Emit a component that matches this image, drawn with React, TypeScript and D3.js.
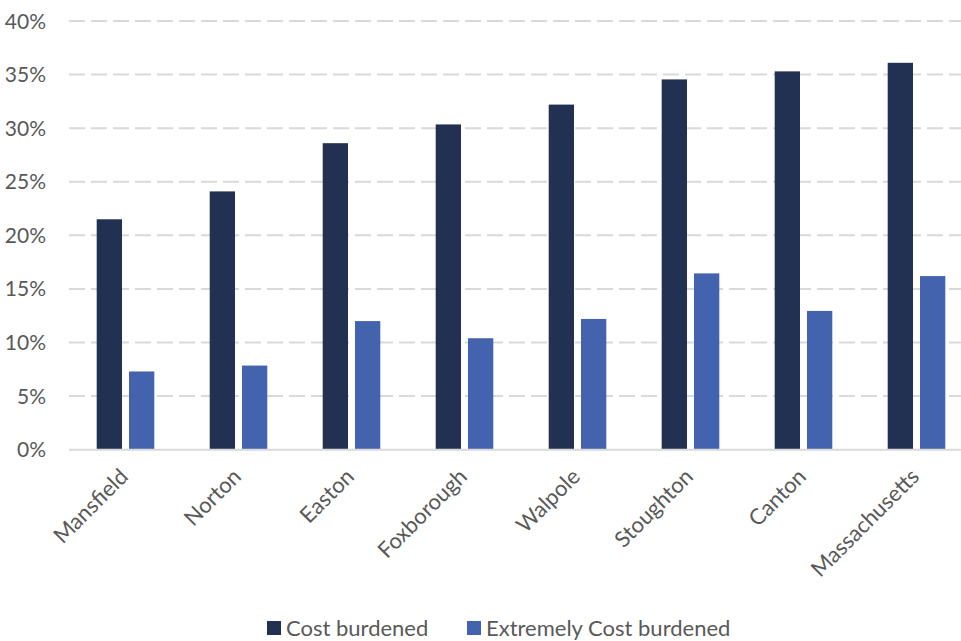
import React from "react";
import * as d3 from "d3";

const categories = ["Mansfield", "Norton", "Easton", "Foxborough", "Walpole", "Stoughton", "Canton", "Massachusetts"];
const costBurdened = [21.5, 24.1, 28.6, 30.35, 32.2, 34.55, 35.3, 36.1];
const extremelyCostBurdened = [7.3, 7.85, 12.0, 10.4, 12.2, 16.45, 12.95, 16.2];
const seriesNames = ["Cost burdened", "Extremely Cost burdened"];
const seriesColors = ["#223052", "#4463AE"];
const yTicks = [0, 5, 10, 15, 20, 25, 30, 35, 40];

const W = 961;
const H = 641;
const FONT = "Lato, 'Open Sans', sans-serif";
const TEXT = "#595959";

export default function App() {
  const x0 = d3.scaleBand<string>().domain(categories).range([69, 973]).paddingInner(0).paddingOuter(0);
  const step = x0.bandwidth();
  const groupW = 57.6;
  const x1 = d3.scaleBand<string>().domain(seriesNames).range([0, groupW]).paddingInner(0.217).paddingOuter(0);
  const y = d3.scaleLinear().domain([0, 40]).range([449.7, 21]);
  const values = [costBurdened, extremelyCostBurdened];

  return (
    <svg width={W} height={H} style={{ display: "block", position: "absolute", left: 0, top: 0 }}>
      <rect x={0} y={0} width={W} height={H} fill="#ffffff" />
      {yTicks.map((t) => (
        <g key={t}>
          {t !== 0 && (
            <line x1={69} x2={973} y1={y(t)} y2={y(t)} stroke="#d9d9d9" strokeWidth={2} strokeDasharray="16 6" />
          )}
          <text x={46} y={y(t)} dy="0.36em" textAnchor="end" fontFamily={FONT} fontSize={21} fill={TEXT}>
            {t}%
          </text>
        </g>
      ))}
      {categories.map((c, i) => (
        <g key={c} transform={`translate(${x0(c)! + (step - groupW) / 2},0)`}>
          {seriesNames.map((s, j) => (
            <rect
              key={s}
              x={x1(s)!}
              y={y(values[j][i])}
              width={x1.bandwidth()}
              height={y(0) - y(values[j][i])}
              fill={seriesColors[j]}
            />
          ))}
        </g>
      ))}
      <line x1={69} x2={973} y1={y(0)} y2={y(0)} stroke="#d9d9d9" strokeWidth={2} />
      {categories.map((c) => {
        const cx = x0(c)! + step / 2 + 4;
        const cy = 478;
        return (
          <text
            key={c}
            x={cx}
            y={cy}
            textAnchor="end"
            transform={`rotate(-45, ${cx}, ${cy})`}
            fontFamily={FONT}
            fontSize={22}
            fill={TEXT}
          >
            {c}
          </text>
        );
      })}
      {seriesNames.map((s, j) => {
        const lx = [267, 467][j];
        return (
          <g key={s}>
            <rect x={lx} y={621} width={14} height={14} fill={seriesColors[j]} />
            <text x={lx + 19} y={636} fontFamily={FONT} fontSize={22} fill={TEXT}>
              {s}
            </text>
          </g>
        );
      })}
    </svg>
  );
}
